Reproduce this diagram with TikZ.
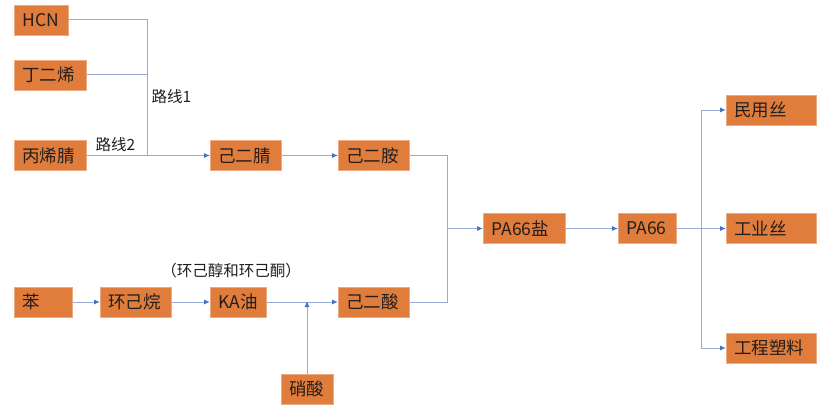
\documentclass[tikz,border=0pt]{standalone}
\usepackage{fontspec}
\setmainfont{Noto Sans CJK SC}
\usetikzlibrary{arrows.meta}
\definecolor{boxfill}{RGB}{224,125,60}
\definecolor{boxline}{RGB}{236,170,130}
\definecolor{lnk}{RGB}{150,172,215}
\definecolor{tip}{RGB}{68,114,196}
\definecolor{txt}{RGB}{35,30,28}
\begin{document}
\begin{tikzpicture}[x=1pt,y=-1pt,
  box/.style={fill=boxfill,draw=boxline,line width=0.6pt,anchor=west,align=left,
    inner xsep=8pt,inner ysep=0pt,minimum height=30pt,text=txt,
    font=\fontsize{17.5}{19}\selectfont},
  lk/.style={draw=lnk,line width=1pt},
  ar/.style={lk,-{Latex[length=6pt,width=5pt,color=tip]}},
  lbl/.style={text=txt,font=\fontsize{15.5}{17}\selectfont}]
\useasboundingbox (0,0) rectangle (830,412);
\node[box,text width=38pt] (hcn) at (14,20) {HCN};
\node[box,text width=56pt] (ddx) at (14,75) {丁二烯};
\node[box,text width=56pt] (bxj) at (14,155.5) {丙烯腈};
\node[box,text width=55pt] (jej) at (210,155.5) {己二腈};
\node[box,text width=55pt] (jea) at (338,155.5) {己二胺};
\node[box,text width=42pt] (ben) at (14,302) {苯};
\node[box,text width=55pt] (hjw) at (100,302) {环己烷};
\node[box,text width=40pt] (ka) at (210,302) {KA油};
\node[box,text width=55pt] (jes) at (338,302) {己二酸};
\node[box,text width=36pt,anchor=center] (xs) at (307,389) {硝酸};
\node[box,text width=66pt] (yan) at (483,228.5) {PA66盐};
\node[box,text width=42pt] (pa) at (618,228.5) {PA66};
\node[box,text width=74pt] (my) at (726,110) {民用丝};
\node[box,text width=74pt] (gy) at (726,228.5) {工业丝};
\node[box,text width=74pt] (gc) at (726,348) {工程塑料};
\coordinate (t) at (147,155.5);
\coordinate (j) at (447,228.5);
\coordinate (b) at (701,228.5);
\node[lbl,anchor=west] (l1) at (148,97) {路线1};
\node[lbl,anchor=west] (l2) at (92,145) {路线2};
\node[lbl] (ka2) at (231,271) {（环己醇和环己酮）};
\draw[lk] (hcn.east) -| (t);
\draw[lk] (ddx.east) -- (ddx.east -| t);
\draw[ar] (bxj.east) -- (jej.west);
\draw[ar] (jej.east) -- (jea.west);
\draw[lk] (jea.east) -| (j);
\draw[lk] (jes.east) -| (j);
\draw[ar] (j) -- (yan.west);
\draw[ar] (yan.east) -- (pa.west);
\draw[ar] (pa.east) -- (gy.west);
\draw[ar] (b) |- (my.west);
\draw[ar] (b) |- (gc.west);
\draw[ar] (ben.east) -- (hjw.west);
\draw[ar] (hjw.east) -- (ka.west);
\draw[ar] (ka.east) -- (jes.west);
\draw[ar] (xs.north) -- ([yshift=1pt]xs.north |- jes.west);
\end{tikzpicture}
\end{document}
